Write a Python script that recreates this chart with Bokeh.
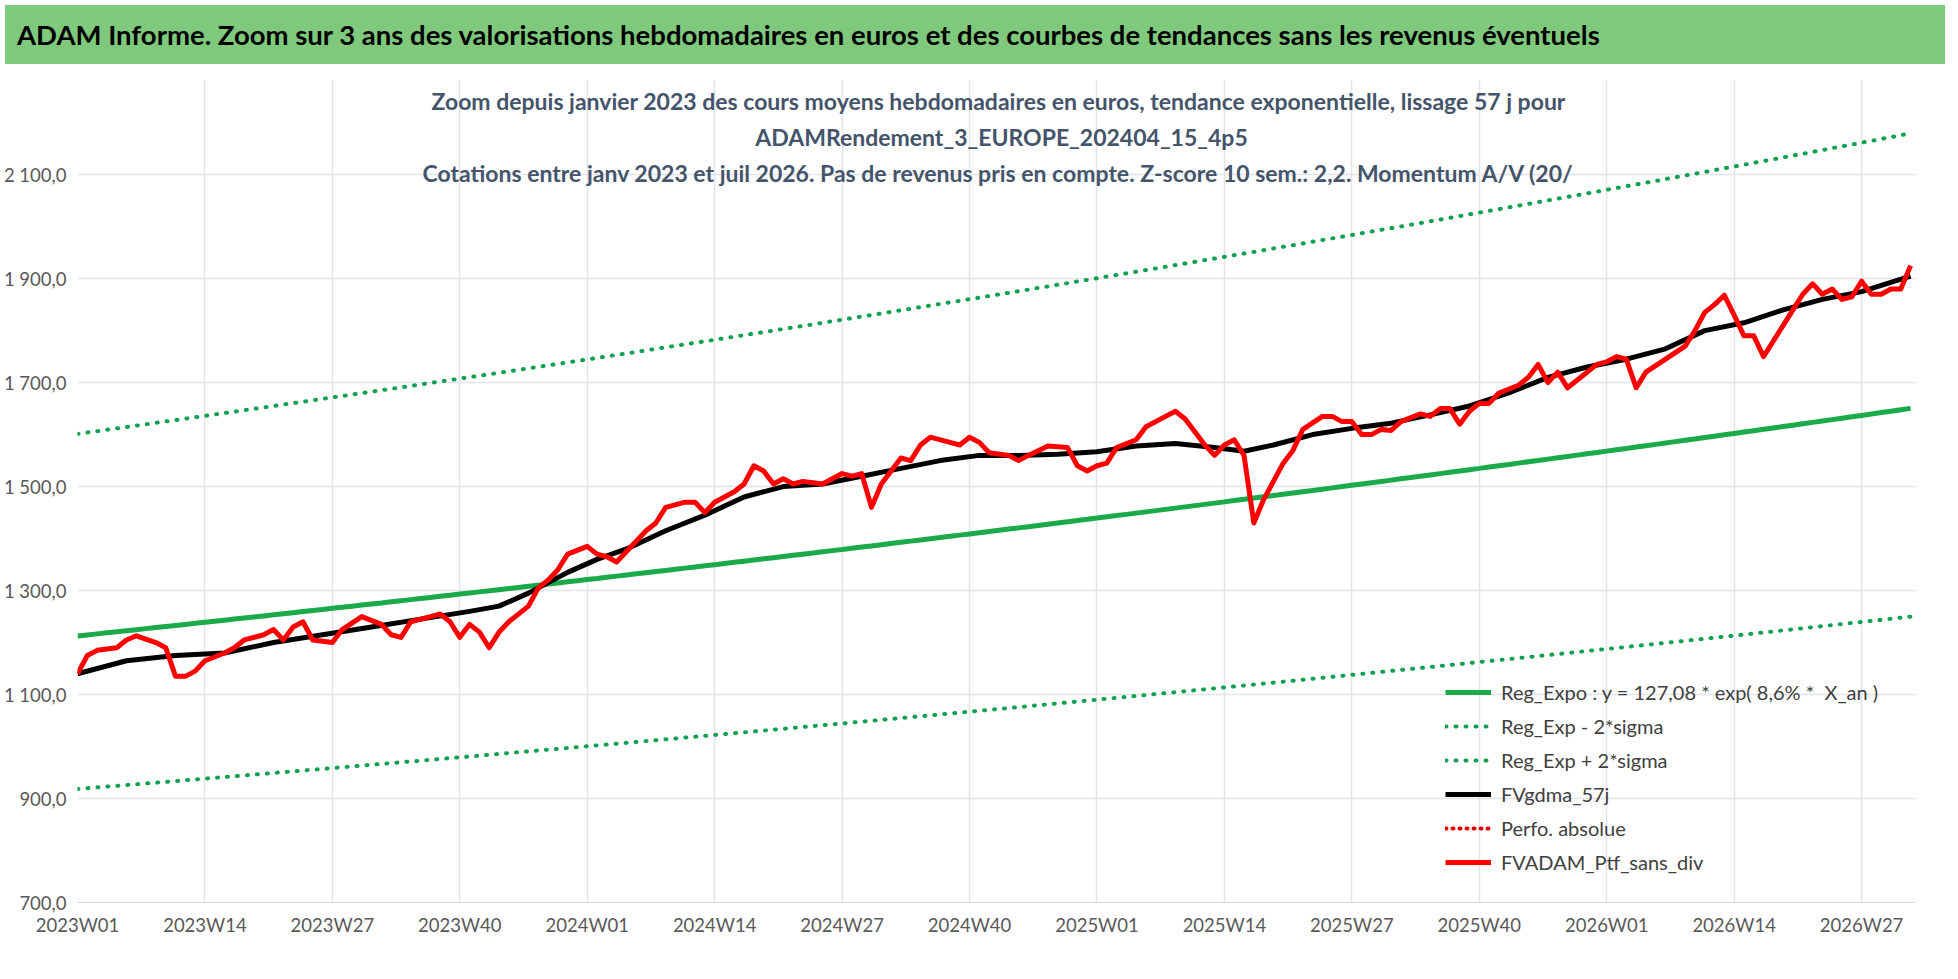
import numpy as np
from bokeh.plotting import figure
from bokeh.models import Div, Label, FixedTicker, Legend, LegendItem, Range1d
from bokeh.layouts import column
from bokeh.embed import file_html
from bokeh.resources import INLINE

n_weeks = 188
week_labels = []
for yr, nw in [(2023, 52), (2024, 52), (2025, 52), (2026, 32)]:
    for w in range(1, nw + 1):
        week_labels.append(f"{yr}W{w:02d}")
tick_idx = list(range(0, 183, 13))

# FVADAM_Ptf_sans_div (week index, value)
red_idx = [0,1,2,4,5,6,8,9,10,11,12,13,15,16,17,19,20,21,22,23,24,26,27,29,31,32,33,34,36,37,38,39,40,41,42,43,44,46,47,48,49,50,52,53,54,55,56,57,58,59,60,62,63,64,65,67,68,69,70,71,72,73,74,76,78,79,80,81,82,83,84,85,86,87,89,90,91,92,93,95,96,97,99,101,102,103,104,105,106,108,109,111,112,113,114,115,116,117,118,119,120,121,122,123,124,125,127,128,129,130,131,132,133,134,135,137,138,139,140,141,142,143,144,145,147,148,149,150,151,152,153,155,156,157,158,159,160,162,164,165,166,167,168,169,170,171,172,173,175,176,177,178,179,180,181,182,183,184,185,186,187]
red_val = [1140,1175,1185,1190,1205,1213,1200,1190,1135,1135,1145,1165,1180,1190,1205,1215,1225,1205,1230,1240,1205,1200,1225,1250,1235,1215,1210,1240,1250,1255,1240,1210,1235,1220,1190,1220,1240,1270,1305,1320,1340,1370,1385,1370,1365,1355,1375,1395,1415,1430,1460,1470,1470,1450,1470,1490,1505,1540,1530,1505,1515,1505,1510,1505,1525,1520,1525,1460,1505,1530,1555,1550,1580,1595,1585,1580,1595,1585,1565,1560,1550,1560,1578,1575,1540,1530,1540,1545,1575,1590,1615,1635,1645,1630,1605,1580,1560,1580,1590,1560,1430,1475,1510,1545,1570,1610,1635,1635,1625,1625,1600,1600,1610,1608,1625,1640,1635,1650,1650,1620,1645,1660,1660,1680,1695,1710,1735,1700,1720,1690,1705,1735,1740,1750,1745,1690,1720,1745,1770,1800,1835,1850,1868,1830,1790,1790,1750,1780,1840,1870,1890,1870,1880,1860,1865,1895,1870,1870,1880,1880,1925]

# FVgdma_57j
blk_idx = [0,5,10,15,20,25,30,35,40,43,46,50,53,56,60,64,68,72,76,80,84,88,92,96,100,104,108,112,116,119,122,126,130,134,138,142,146,150,154,158,162,166,170,174,178,182,187]
blk_val = [1140,1165,1175,1180,1200,1215,1230,1245,1260,1270,1295,1335,1360,1380,1415,1445,1480,1500,1505,1520,1535,1550,1560,1560,1562,1567,1578,1583,1575,1568,1580,1600,1612,1622,1638,1655,1680,1710,1730,1745,1765,1800,1815,1840,1860,1875,1905]

# Reg_Expo : y = 127,08 * exp(8,6% * X_an), X_an start ~26.23 years, 2*sigma ~0.278
reg_a, reg_b, xan0, two_sigma = 127.08, 0.086, 26.23, 0.278
wk = np.arange(n_weeks)
reg = reg_a * np.exp(reg_b * (xan0 + wk / 52.18))
reg_hi = reg * np.exp(two_sigma)
reg_lo = reg * np.exp(-two_sigma)

y_ticks = [700, 900, 1100, 1300, 1500, 1700, 1900, 2100]

FONT = "Lato"
W, H = 1940, 900
ML, MR, MT, MB = 64, 25, 10, 67
FH = H - MT - MB

banner = Div(text="ADAM Informe. Zoom sur 3 ans des valorisations hebdomadaires en euros et des courbes de tendances sans les revenus éventuels",
             width=W, height=59,
             styles={"background-color": "#7fc97c", "font-family": FONT, "font-weight": "bold",
                     "font-size": "27.5px", "color": "#000", "line-height": "59px",
                     "padding-left": "12px", "box-sizing": "border-box",
                     "white-space": "nowrap", "overflow": "hidden"})

p = figure(width=W, height=H, output_backend="svg", toolbar_location=None,
           x_range=Range1d(0, 187.5), y_range=Range1d(700, 2283),
           min_border_left=ML, min_border_right=MR, min_border_top=MT, min_border_bottom=MB)
p.outline_line_color = None
p.xaxis.ticker = FixedTicker(ticks=tick_idx)
p.xaxis.major_label_overrides = {i: week_labels[i] for i in tick_idx}
p.yaxis.ticker = FixedTicker(ticks=y_ticks)
p.yaxis.major_label_overrides = {v: (f"{v:,}".replace(",", " ") + ",0") for v in y_ticks}
for ax in (p.xaxis, p.yaxis):
    ax.major_label_text_font = FONT
    ax.major_label_text_font_size = "18.5px"
    ax.major_label_text_color = "#595959"
    ax.major_tick_line_color = None
    ax.minor_tick_line_color = None
p.yaxis.axis_line_color = None
p.xaxis.axis_line_color = "#d9d9d9"
p.xgrid.grid_line_color = "#e3e3ea"
p.ygrid.grid_line_color = "#e3e3ea"
p.xgrid.grid_line_width = 1.5
p.ygrid.grid_line_width = 1.5

r_reg = p.line(wk, reg, line_color="#1aaa4a", line_width=5)
r_lo = p.line(wk, reg_lo, line_color="#10a050", line_width=4, line_dash="1 9", line_cap="round")
r_hi = p.line(wk, reg_hi, line_color="#10a050", line_width=4, line_dash="1 9", line_cap="round")
r_blk = p.line(blk_idx, blk_val, line_color="#000000", line_width=5)
r_perf = p.line([0], [np.nan], line_color="#e00000", line_width=4, line_dash="1 6", line_cap="round")
r_red = p.line(red_idx, red_val, line_color="#ff0000", line_width=5, line_join="round")

legend = Legend(items=[
    LegendItem(label="Reg_Expo : y = 127,08 * exp( 8,6% *  X_an )", renderers=[r_reg]),
    LegendItem(label="Reg_Exp - 2*sigma", renderers=[r_lo]),
    LegendItem(label="Reg_Exp + 2*sigma", renderers=[r_hi]),
    LegendItem(label="FVgdma_57j", renderers=[r_blk]),
    LegendItem(label="Perfo. absolue", renderers=[r_perf]),
    LegendItem(label="FVADAM_Ptf_sans_div", renderers=[r_red]),
], location=(1368, 28), label_text_font=FONT, label_text_font_size="20px",
   label_text_color="#404040", border_line_color=None, background_fill_alpha=0,
   spacing=10, glyph_width=46, label_standoff=10)
p.add_layout(legend)

titles = [
    "Zoom depuis janvier 2023 des cours moyens hebdomadaires  en euros, tendance exponentielle, lissage 57 j pour",
    "ADAMRendement_3_EUROPE_202404_15_4p5",
    "Cotations  entre janv 2023 et juil 2026. Pas de revenus pris en compte. Z-score 10 sem.: 2,2. Momentum A/V (20/",
]
for i, t in enumerate(titles):
    p.add_layout(Label(x=996 - 8 - ML, y=FH - 21 - 36 * i, x_units="screen", y_units="screen",
                       text=t, text_align="center", text_baseline="middle", text_font=FONT,
                       text_font_size="23px", text_font_style="bold", text_color="#44546a"))

lay = column(banner, p, spacing=0)
open("out.html", "w").write(file_html(lay, INLINE))
